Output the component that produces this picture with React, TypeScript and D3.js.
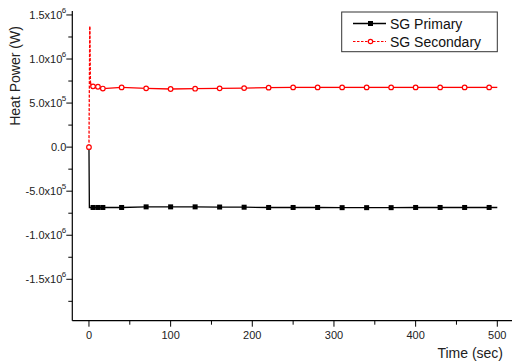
import React from "react";
import * as d3 from "d3";

// Data (time in s, power in W)
const primaryTime = [0, 0.5, 5, 11, 17, 40, 70, 100, 130, 160, 190, 220, 250, 280, 310, 340, 370, 400, 430, 460, 490, 500];
const primaryPower = [0, -6.85e5, -6.85e5, -6.85e5, -6.85e5, -6.85e5, -6.78e5, -6.78e5, -6.78e5, -6.8e5, -6.82e5, -6.85e5, -6.85e5, -6.85e5, -6.87e5, -6.87e5, -6.87e5, -6.85e5, -6.85e5, -6.85e5, -6.85e5, -6.85e5];
const primaryMarkerTime = [5, 11, 17, 40, 70, 100, 130, 160, 190, 220, 250, 280, 310, 340, 370, 400, 430, 460, 490];

const secondaryTime = [0, 1, 1.8, 2.6, 3.5, 5, 7, 9, 11, 14, 17, 40, 70, 100, 130, 160, 190, 220, 250, 280, 310, 340, 370, 400, 430, 460, 490, 500];
const secondaryPower = [0, 1.37e6, 7.4e5, 7.0e5, 6.6e5, 6.9e5, 6.7e5, 6.95e5, 6.85e5, 6.75e5, 6.65e5, 6.78e5, 6.67e5, 6.6e5, 6.63e5, 6.67e5, 6.7e5, 6.75e5, 6.78e5, 6.78e5, 6.78e5, 6.78e5, 6.78e5, 6.78e5, 6.78e5, 6.78e5, 6.78e5, 6.78e5];
const secondaryMarkerTime = [0, 5, 11, 17, 40, 70, 100, 130, 160, 190, 220, 250, 280, 310, 340, 370, 400, 430, 460, 490];

const xMajorTicks = [0, 100, 200, 300, 400, 500];
const xMinorTicks = [50, 150, 250, 350, 450];
const yMajorTicks = [-1.5e6, -1.0e6, -5e5, 0, 5e5, 1.0e6, 1.5e6];
const yMinorTicks = [-1.75e6, -1.25e6, -7.5e5, -2.5e5, 2.5e5, 7.5e5, 1.25e6];

const seriesNames = ["SG Primary", "SG Secondary"];

const W = 512, H = 362;
const x = d3.scaleLinear().domain([-20.4, 518]).range([72.3, 512]);
const y = d3.scaleLinear().domain([-1.97e6, 1.545e6]).range([320.7, 11]);

function valueAt(ts: number[], vs: number[], t: number) {
  const i = ts.indexOf(t);
  return vs[i];
}

function fmtY(v: number) {
  if (v === 0) return { m: "0.0", e: "" };
  const e = Math.floor(Math.log10(Math.abs(v)));
  const m = v / Math.pow(10, e);
  return { m: m.toFixed(1) + "x10", e: String(e) };
}

export default function App() {
  const line = d3.line<number>().x((_, i) => 0).y(() => 0);
  const pPts: [number, number][] = primaryTime.map((t, i) => [x(t), y(primaryPower[i])]);
  const sPts: [number, number][] = secondaryTime.map((t, i) => [x(t), y(secondaryPower[i])]);
  const path = d3.line();
  const x0 = 72.3, yAxis = 320.7;
  return (
    <svg width={W} height={H} style={{ position: "absolute", left: 0, top: 0 }} fontFamily="Liberation Sans, Arial, sans-serif">
      <rect width={W} height={H} fill="white" />
      {/* axes */}
      <line x1={x0} x2={x0} y1={11} y2={yAxis} stroke="black" strokeWidth={1.2} />
      <line x1={x0} x2={512} y1={yAxis} y2={yAxis} stroke="black" strokeWidth={1.2} />
      {yMajorTicks.map((v) => {
        const f = fmtY(v);
        return (
          <g key={"ym" + v}>
            <line x1={x0 - 6} x2={x0} y1={y(v)} y2={y(v)} stroke="black" />
            <text x={f.e ? x0 - 10 : x0 - 6} y={y(v) + 4} textAnchor="end" fontSize={11} fill="#222">
              {f.m}
            </text>
            {f.e && (
              <text x={x0 - 6} y={y(v) - 2} textAnchor="end" fontSize={8} fill="#222">
                {f.e}
              </text>
            )}
          </g>
        );
      })}
      {yMinorTicks.map((v) => (
        <line key={"yn" + v} x1={x0 - 4} x2={x0} y1={y(v)} y2={y(v)} stroke="black" />
      ))}
      {xMajorTicks.map((v) => (
        <g key={"xm" + v}>
          <line x1={x(v)} x2={x(v)} y1={yAxis} y2={yAxis + 6} stroke="black" />
          <text x={x(v)} y={yAxis + 18} textAnchor="middle" fontSize={11} fill="#222">{v}</text>
        </g>
      ))}
      {xMinorTicks.map((v) => (
        <line key={"xn" + v} x1={x(v)} x2={x(v)} y1={yAxis} y2={yAxis + 4} stroke="black" />
      ))}
      <text x={503} y={358} textAnchor="end" fontSize={14} fill="#222">Time (sec)</text>
      <text transform="translate(20,76) rotate(-90)" textAnchor="middle" fontSize={14} fill="#222">Heat Power (W)</text>

      {/* primary */}
      <path d={path(pPts) || ""} fill="none" stroke="black" strokeWidth={1.3} />
      {primaryMarkerTime.map((t) => (
        <rect key={"pm" + t} x={x(t) - 2.5} y={y(valueAt(primaryTime, primaryPower, t)) - 2.5} width={5} height={5} fill="black" />
      ))}
      {/* secondary: long segments dashed, short ones appear solid */}
      {sPts.slice(1).map((p, i) => {
        const a = sPts[i];
        const len = Math.hypot(p[0] - a[0], p[1] - a[1]);
        return (
          <line key={"ss" + i} x1={a[0]} y1={a[1]} x2={p[0]} y2={p[1]} stroke="red" strokeWidth={1.3}
            strokeDasharray={len > 30 ? "3,1.5" : undefined} />
        );
      })}
      {secondaryMarkerTime.map((t) => (
        <circle key={"sm" + t} cx={x(t)} cy={y(valueAt(secondaryTime, secondaryPower, t))} r={2.3} fill="white" stroke="red" strokeWidth={1.2} />
      ))}

      {/* legend */}
      <rect x={341.7} y={12} width={155.6} height={39.7} fill="white" stroke="#333" strokeWidth={1} />
      <line x1={353} x2={386} y1={23.5} y2={23.5} stroke="black" strokeWidth={1.3} />
      <rect x={368} y={21} width={5} height={5} fill="black" />
      <text x={390} y={28.5} fontSize={14} fill="#111">{seriesNames[0]}</text>
      <line x1={353} x2={386} y1={41.5} y2={41.5} stroke="red" strokeWidth={1.2} strokeDasharray="2.5,1.5" />
      <circle cx={370.5} cy={41.5} r={2.2} fill="white" stroke="red" strokeWidth={1.2} />
      <text x={390} y={46.5} fontSize={14} fill="#111">{seriesNames[1]}</text>
    </svg>
  );
}
